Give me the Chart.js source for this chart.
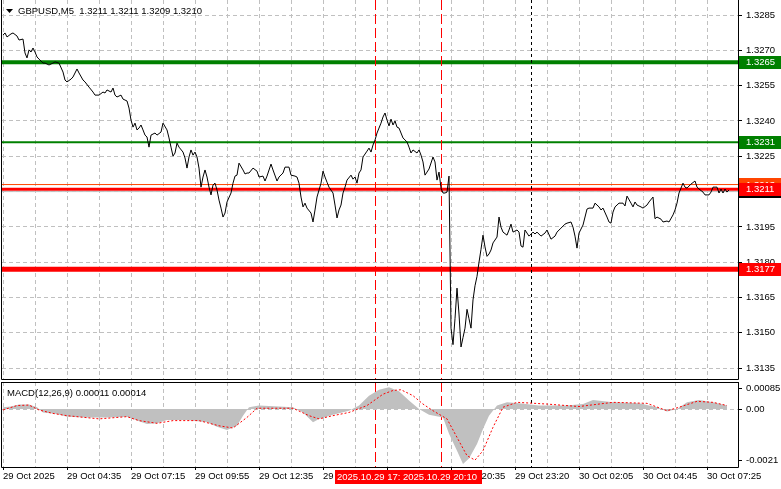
<!DOCTYPE html>
<html>
<head>
<meta charset="utf-8">
<script src="https://cdn.jsdelivr.net/npm/chart.js@4.4.1/dist/chart.umd.min.js"></script>
<style>
  html, body { margin: 0; padding: 0; background: #fff; }
  #wrap { position: relative; width: 781px; height: 489px; overflow: hidden; background: #fff; }
  canvas { position: absolute; left: 0; }
  #priceChart { top: 0; }
  #macdChart { top: 381px; }
</style>
</head>
<body>
<div id="wrap">
  <canvas id="priceChart" width="781" height="381"></canvas>
  <canvas id="macdChart" width="781" height="108"></canvas>
</div>
<script>
// title
const symbolName = "GBPUSD,M5";
const lastOhlc = ["1.3211", "1.3211", "1.3209", "1.3210"];

// x axis: one label every 32 bars (5 min bars)
const timeLabels = ["29 Oct 2025", "29 Oct 04:35", "29 Oct 07:15", "29 Oct 09:55", "29 Oct 12:35", "29 Oct 15:15",
  "29 Oct 17:55", "29 Oct 20:35", "29 Oct 23:20", "30 Oct 02:05", "30 Oct 04:45", "30 Oct 07:25"];

// price axis
const priceTicks = ["1.3285", "1.3270", "1.3255", "1.3240", "1.3225", "1.3210", "1.3195", "1.3180", "1.3165", "1.3150", "1.3135"];
const macdTicks = ["0.00085", "0.00", "-0.0021"];

// close line (bar index, close)
const priceIdx = [0,1,2,4,5,7,8,10,11,12,13,14,15,16,17,18,20,21,23,25,26,28,30,31,32,34,35,37,38,40,41,43,45,46,48,50,51,52,54,55,56,57,59,60,62,63,64,65,66,67,68,69,70,71,72,73,74,76,77,79,80,82,83,84,85,86,87,88,90,91,92,93,94,95,96,97,98,99,100,101,102,103,104,105,106,107,108,109,110,111,112,114,115,116,117,118,120,121,122,123,125,127,128,130,131,132,134,135,137,138,140,141,143,144,146,147,148,149,150,151,152,154,155,156,157,159,160,161,162,163,165,166,167,168,169,170,171,172,174,175,176,177,178,179,180,182,183,184,185,186,187,188,189,190,191,192,193,194,195,196,197,198,199,200,202,203,204,205,207,208,209,210,211,212,213,215,216,217,218,219,220,221,222,223,224,225,226,227,228,229,230,231,232,233,234,235,236,237,238,239,240,241,242,243,244,245,247,248,249,250,252,253,254,255,257,258,259,260,261,262,263,265,266,267,269,271,272,274,276,277,279,281,282,284,285,286,287,288,290,292,293,295,296,298,299,300,302,303,304,305,306,308,310,311,312,314,315,316,317,319,320,322,323,325,326,327,329,330,332,333,335,336,337,338,339,340,341,342,344,346,347,348,350,351,353,354,355,357,358,359,360,361,362,363];
const priceClose = [1.32765,1.32774,1.32757,1.32770,1.32774,1.32761,1.32744,1.32748,1.32689,1.32668,1.32702,1.32693,1.32710,1.32693,1.32672,1.32663,1.32646,1.32646,1.32638,1.32646,1.32651,1.32646,1.32608,1.32574,1.32566,1.32578,1.32587,1.32621,1.32604,1.32574,1.32566,1.32544,1.32523,1.32510,1.32510,1.32523,1.32519,1.32532,1.32523,1.32540,1.32510,1.32502,1.32510,1.32493,1.32485,1.32455,1.32404,1.32374,1.32391,1.32362,1.32370,1.32383,1.32362,1.32340,1.32332,1.32289,1.32340,1.32349,1.32340,1.32353,1.32391,1.32362,1.32328,1.32289,1.32251,1.32264,1.32306,1.32289,1.32268,1.32243,1.32200,1.32247,1.32277,1.32255,1.32268,1.32247,1.32200,1.32119,1.32162,1.32192,1.32162,1.32119,1.32086,1.32128,1.32136,1.32107,1.32064,1.32030,1.31992,1.32009,1.32056,1.32094,1.32136,1.32166,1.32170,1.32221,1.32192,1.32175,1.32179,1.32179,1.32200,1.32187,1.32162,1.32166,1.32145,1.32166,1.32217,1.32192,1.32145,1.32162,1.32179,1.32204,1.32204,1.32170,1.32166,1.32162,1.32136,1.32077,1.32035,1.32051,1.32030,1.32009,1.31971,1.32022,1.32077,1.32136,1.32187,1.32162,1.32140,1.32119,1.32094,1.32043,1.31988,1.32022,1.32043,1.32094,1.32119,1.32149,1.32170,1.32153,1.32162,1.32136,1.32179,1.32192,1.32247,1.32272,1.32285,1.32268,1.32298,1.32319,1.32349,1.32370,1.32391,1.32417,1.32434,1.32404,1.32379,1.32408,1.32383,1.32400,1.32374,1.32370,1.32349,1.32328,1.32311,1.32289,1.32264,1.32277,1.32264,1.32277,1.32255,1.32226,1.32170,1.32183,1.32196,1.32247,1.32226,1.32149,1.32183,1.32115,1.32094,1.32094,1.32098,1.32166,1.31520,1.31450,1.31560,1.31690,1.31580,1.31440,1.31480,1.31520,1.31600,1.31560,1.31520,1.31640,1.31700,1.31740,1.31800,1.31855,1.31915,1.31865,1.31825,1.31835,1.31852,1.31882,1.31907,1.31992,1.31949,1.31928,1.31915,1.31937,1.31962,1.31928,1.31937,1.31928,1.31869,1.31864,1.31937,1.31924,1.31911,1.31928,1.31920,1.31928,1.31911,1.31924,1.31937,1.31898,1.31911,1.31928,1.31945,1.31962,1.31966,1.31971,1.31949,1.31911,1.31860,1.31924,1.31958,1.32026,1.32030,1.32030,1.32051,1.32035,1.32022,1.32030,1.31992,1.31971,1.31966,1.32013,1.32035,1.32051,1.32051,1.32039,1.32081,1.32051,1.32035,1.32056,1.32043,1.32035,1.32030,1.32043,1.32056,1.32077,1.31985,1.31992,1.31983,1.31971,1.31975,1.31971,1.32001,1.32022,1.32051,1.32094,1.32115,1.32136,1.32119,1.32115,1.32132,1.32145,1.32119,1.32111,1.32098,1.32086,1.32086,1.32098,1.32119,1.32119,1.32094,1.32111,1.32094,1.32111,1.32098,1.32107];

// MACD histogram and signal (bar index, value)
const histIdx = [0,4,8,13,17,20,27,32,42,52,62,67,72,77,82,92,102,107,112,117,120,123,128,138,145,150,155,158,165,173,178,183,188,193,198,203,208,213,220,223,227,230,233,237,240,243,247,252,258,268,282,290,295,305,318,327,332,337,342,348,355,362];
const histVals = [0.00007,0.0001,0.00018,0.00018,0.00007,-0.00014,-0.0002,-0.00031,-0.00034,-0.00034,-0.00031,-0.00047,-0.00061,-0.00058,-0.00045,-0.00045,-0.00054,-0.00072,-0.00085,-0.00068,-0.00027,0.00007,0.00014,0.0001,0.00007,-0.00014,-0.00054,-0.0004,-0.00023,-0.00007,0.00014,0.00054,0.00078,0.00088,0.00072,0.00034,0,-0.00023,-0.00034,-0.001,-0.00169,-0.00223,-0.002,-0.00142,-0.00081,-0.00027,0.00014,0.00027,0.00023,0.00014,0.00014,0.0002,0.00036,0.00027,0.00023,0.00007,-0.0001,0,0.00027,0.00036,0.00027,0.00014];
const signalIdx = [0,7,13,18,25,32,48,62,68,77,85,98,108,115,122,127,145,153,158,165,173,182,190,195,199,205,210,215,222,227,232,236,240,245,250,257,272,288,305,322,332,338,347,355,362];
const signalVals = [-0.00004,0.00014,0.00016,-0.00004,-0.00018,-0.00027,-0.0004,-0.00031,-0.00047,-0.00058,-0.00047,-0.00047,-0.00068,-0.00077,-0.00034,0.00003,0.00003,-0.00027,-0.0004,-0.00027,-0.00014,0.00014,0.0006,0.00075,0.00078,0.00054,0.0002,-0.00007,-0.0004,-0.00115,-0.00189,-0.00207,-0.00169,-0.00074,0.00007,0.00027,0.0002,0.0001,0.00027,0.00023,-0.00007,0.00007,0.00031,0.00027,0.00014];
const macdName = "MACD(12,26,9)";
const macdLast = ["0.00011", "0.00014"];

// horizontal levels and vertical time markers
const levels = [1.3265, 1.3231, 1.3213, 1.3210, 1.3211, 1.3177];
const levelLabels = ["1.3265", "1.3231", "1.3213", "1.3210", "1.3211", "1.3177"];
const markerIdx = [186, 219, 264];
const markerLabels = ["2025.10.29 17:25", "2025.10.29 20:10", ""];

// styles
const FONT = '"Liberation Sans", Arial, sans-serif';
const GRID = "#c0c0c0";
const levelStyle = [
  { color: "#008000", width: 4, box: "#008000" },
  { color: "#008000", width: 2, box: "#008000" },
  { color: "#ff4500", width: 1, box: "#ff4500" },
  { color: "#c0c0c0", width: 1, box: "#000000" },
  { color: "#ff0000", width: 3, box: "#ff0000" },
  { color: "#ff0000", width: 5, box: "#ff0000" }
];
const markerStyle = [
  { color: "#ff0000", dash: [10, 4] },
  { color: "#ff0000", dash: [10, 4] },
  { color: "#000000", dash: [3, 3] }
];

function gridTicks(scale) {
  const t = [];
  for (let v = 0; v <= (timeLabels.length - 1) * 32; v += 16) t.push({ value: v });
  scale.ticks = t;
}

// keep the plot area fixed: no extra padding for tick labels
function noPad(s) {
  s.paddingTop = 0; s.paddingBottom = 0; s.paddingLeft = 0; s.paddingRight = 0;
}

function drawMarkers(chart) {
  const ctx = chart.ctx, x = chart.scales.x, a = chart.chartArea;
  markerIdx.forEach((m, i) => {
    const px = Math.round(x.getPixelForValue(m)) + 0.5;
    ctx.save();
    ctx.strokeStyle = markerStyle[i].color;
    ctx.lineWidth = 1;
    ctx.setLineDash(markerStyle[i].dash);
    ctx.beginPath();
    ctx.moveTo(px, a.top);
    ctx.lineTo(px, a.bottom);
    ctx.stroke();
    ctx.restore();
  });
}

function drawFrame(chart, top) {
  const ctx = chart.ctx, a = chart.chartArea;
  ctx.save();
  ctx.strokeStyle = "#000";
  ctx.lineWidth = 1;
  ctx.beginPath();
  if (top) { ctx.moveTo(1.5, a.top + 0.5); ctx.lineTo(a.right + 0.5, a.top + 0.5); }
  ctx.moveTo(1.5, a.top); ctx.lineTo(1.5, a.bottom + 0.5);
  ctx.lineTo(a.right + 0.5, a.bottom + 0.5);
  ctx.moveTo(a.right + 0.5, a.top); ctx.lineTo(a.right + 0.5, a.bottom + 0.5);
  ctx.stroke();
  ctx.restore();
}

const pricePlugin = {
  id: "pricePlugin",
  beforeDatasetsDraw(chart) {
    const ctx = chart.ctx, y = chart.scales.y, a = chart.chartArea;
    levels.forEach((lv, i) => {
      const py = y.getPixelForValue(lv);
      ctx.save();
      ctx.strokeStyle = levelStyle[i].color;
      ctx.lineWidth = levelStyle[i].width;
      ctx.beginPath();
      ctx.moveTo(a.left, py);
      ctx.lineTo(a.right, py);
      ctx.stroke();
      ctx.restore();
    });
    drawMarkers(chart);
  },
  afterDraw(chart) {
    const ctx = chart.ctx, y = chart.scales.y, a = chart.chartArea;
    // price boxes on the axis
    levels.forEach((lv, i) => {
      const py = y.getPixelForValue(lv);
      ctx.save();
      ctx.fillStyle = levelStyle[i].box;
      ctx.fillRect(a.right + 1, Math.round(py - 6.5), 781 - a.right, 13);
      ctx.fillStyle = "#fff";
      ctx.font = "9.5px " + FONT;
      ctx.textBaseline = "middle";
      ctx.fillText(levelLabels[i], a.right + 8, py + 0.5);
      ctx.restore();
    });
    drawFrame(chart, false);
    // title
    ctx.save();
    ctx.fillStyle = "#000";
    ctx.beginPath();
    ctx.moveTo(6, 9); ctx.lineTo(13, 9); ctx.lineTo(9.5, 13); ctx.closePath();
    ctx.fill();
    ctx.font = "9.5px " + FONT;
    ctx.textBaseline = "middle";
    ctx.fillText(symbolName + "  " + lastOhlc.join(" "), 18, 11);
    ctx.restore();
  }
};

const macdPlugin = {
  id: "macdPlugin",
  beforeDatasetsDraw(chart) {
    drawMarkers(chart);
  },
  afterDraw(chart) {
    const ctx = chart.ctx, x = chart.scales.x, a = chart.chartArea;
    drawFrame(chart, true);
    ctx.save();
    ctx.fillStyle = "#000";
    ctx.font = "9.5px " + FONT;
    ctx.textBaseline = "middle";
    ctx.fillText(macdName + " " + macdLast.join(" "), 7, 12);
    // time boxes of the vertical markers
    markerIdx.forEach((m, i) => {
      if (!markerLabels[i]) return;
      const px = Math.round(x.getPixelForValue(m));
      ctx.fillStyle = "#ff0000";
      ctx.fillRect(px - 40, a.bottom + 3, 81, 14);
      ctx.fillStyle = "#fff";
      ctx.textAlign = "left";
      ctx.fillText(markerLabels[i], px - 38, a.bottom + 10.5);
    });
    ctx.restore();
  }
};

new Chart(document.getElementById("priceChart"), {
  type: "line",
  data: {
    datasets: [{
      data: priceIdx.map((v, i) => ({ x: v, y: priceClose[i] })),
      borderColor: "#000",
      borderWidth: 1,
      pointRadius: 0,
      tension: 0,
      fill: false
    }]
  },
  options: {
    responsive: false,
    animation: false,
    devicePixelRatio: 1,
    layout: { padding: { left: 2, top: 0, right: 0, bottom: 2 } },
    plugins: { legend: { display: false }, tooltip: { enabled: false } },
    scales: {
      x: {
        type: "linear", min: -0.5, max: 367.5,
        afterBuildTicks: gridTicks,
        afterFit: s => { s.height = 0; noPad(s); },
        ticks: { display: false },
        grid: { color: GRID, drawTicks: false },
        border: { display: false, dash: [4, 3] }
      },
      y: {
        position: "right", min: 1.31304, max: 1.32914,
        afterFit: s => { s.width = 43; noPad(s); },
        afterBuildTicks: s => { s.ticks = priceTicks.map(t => ({ value: parseFloat(t) })); },
        ticks: { autoSkip: false, color: "#000", padding: 4, font: { family: FONT, size: 9.5 },
          callback: (v, i) => priceTicks[i] },
        grid: { color: GRID, tickColor: "#000", tickLength: 4, tickBorderDash: [] },
        border: { display: false, dash: [4, 3] }
      }
    }
  },
  plugins: [pricePlugin]
});

new Chart(document.getElementById("macdChart"), {
  type: "line",
  data: {
    datasets: [{
      data: histIdx.map((v, i) => ({ x: v, y: histVals[i] })),
      borderWidth: 0,
      backgroundColor: "#c0c0c0",
      fill: "origin",
      pointRadius: 0,
      tension: 0,
      order: 2
    }, {
      data: signalIdx.map((v, i) => ({ x: v, y: signalVals[i] })),
      borderColor: "#ff0000",
      borderWidth: 1,
      borderDash: [2, 2],
      pointRadius: 0,
      tension: 0,
      fill: false,
      order: 1
    }]
  },
  options: {
    responsive: false,
    animation: false,
    devicePixelRatio: 1,
    layout: { padding: { left: 2, top: 1, right: 0, bottom: 0 } },
    plugins: { legend: { display: false }, tooltip: { enabled: false } },
    scales: {
      x: {
        type: "linear", min: -0.5, max: 367.5,
        afterBuildTicks: gridTicks,
        afterFit: s => { s.height = 22; noPad(s); },
        ticks: { autoSkip: false, maxRotation: 0, align: "start", padding: 1, color: "#000",
          font: { family: FONT, size: 9.5 },
          callback: v => (v % 32 === 0 ? timeLabels[v / 32] : "") },
        grid: { color: GRID, tickLength: 3, tickBorderDash: [],
          tickColor: c => (c.tick && c.tick.value % 32 === 0 ? "#000" : "rgba(0,0,0,0)") },
        border: { display: false, dash: [4, 3] }
      },
      y: {
        position: "right", min: -0.002349, max: 0.0010935,
        afterFit: s => { s.width = 43; noPad(s); },
        afterBuildTicks: s => { s.ticks = macdTicks.map(t => ({ value: parseFloat(t) })); },
        ticks: { autoSkip: false, color: "#000", padding: 4, font: { family: FONT, size: 9.5 },
          callback: (v, i) => macdTicks[i] },
        grid: { color: c => (c.tick && c.tick.value === 0 ? GRID : "rgba(0,0,0,0)"),
          tickColor: "#000", tickLength: 4, tickBorderDash: [] },
        border: { display: false, dash: [4, 3] }
      }
    }
  },
  plugins: [macdPlugin]
});
</script>
</body>
</html>
